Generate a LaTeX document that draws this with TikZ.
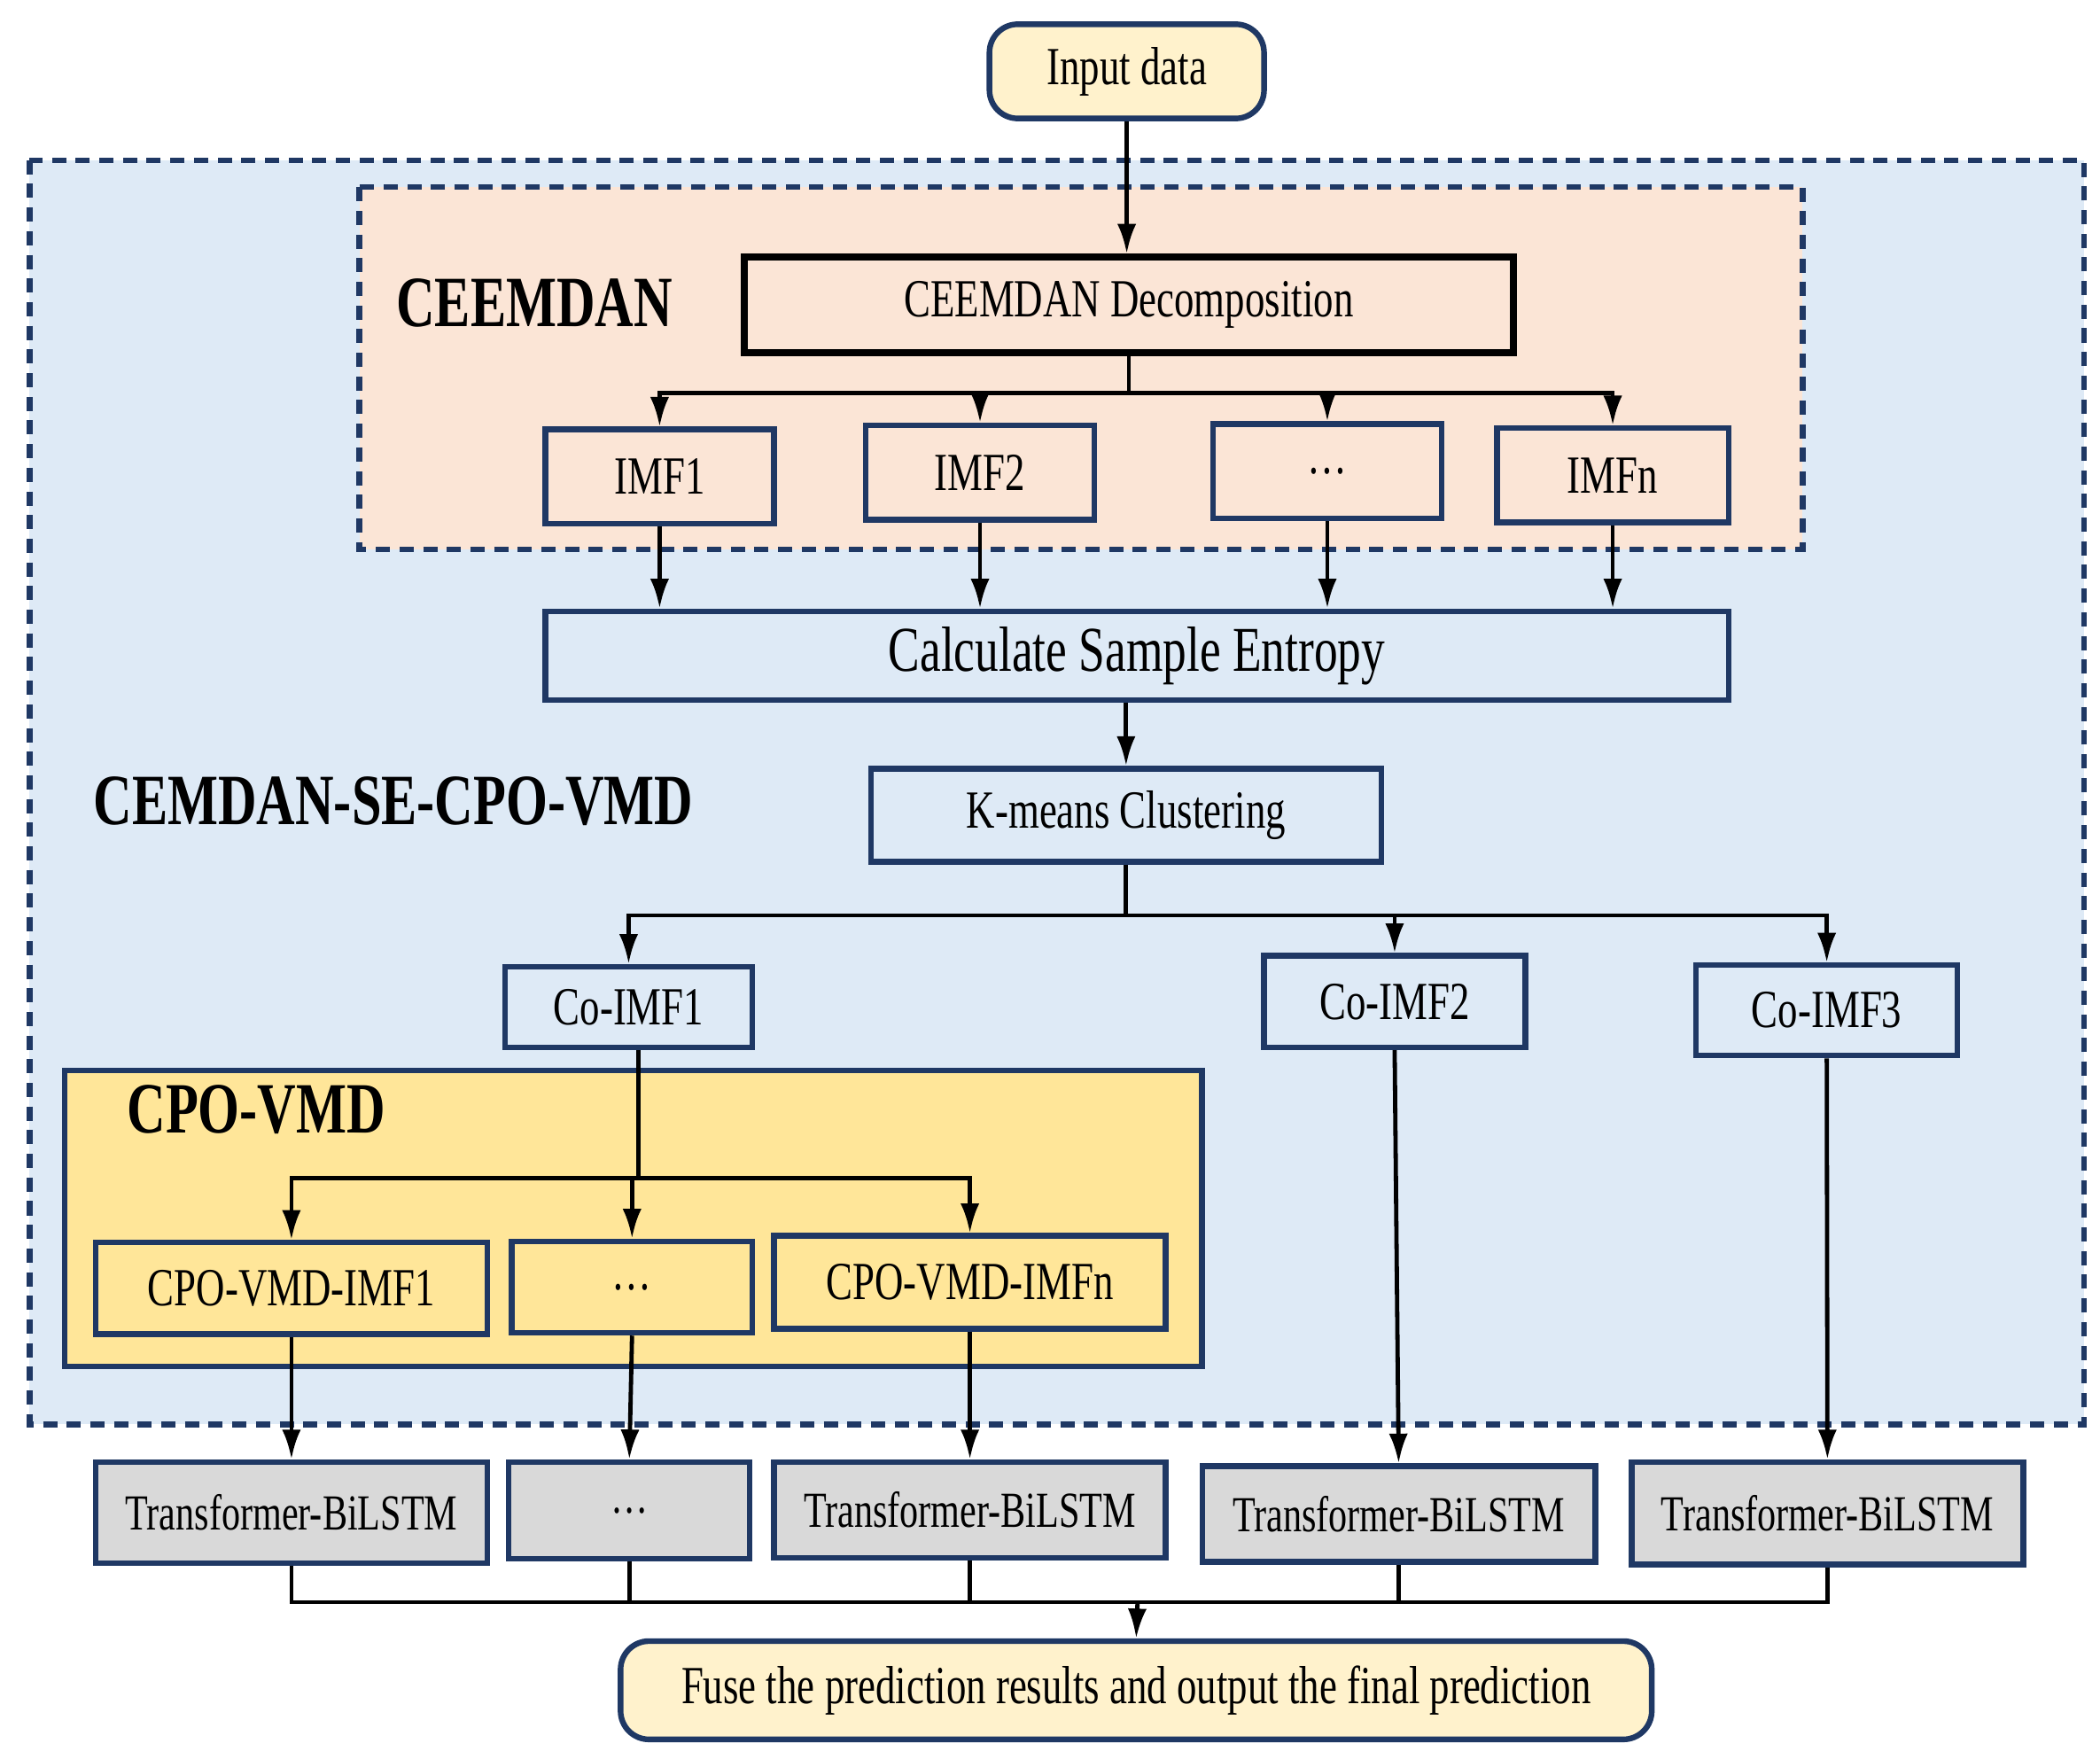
\documentclass[tikz,border=0pt]{standalone}
\usepackage{fontspec}
\setmainfont{Liberation Serif}
\usepackage{graphicx}
\usetikzlibrary{arrows.meta, positioning}

\definecolor{navy}{HTML}{1F3864}
\definecolor{bluebg}{HTML}{DEEAF6}
\definecolor{peach}{HTML}{FBE5D6}
\definecolor{gold}{HTML}{FFE699}
\definecolor{cream}{HTML}{FFF2CC}
\definecolor{greybox}{HTML}{D9D9D9}

\newcommand{\tallt}[1]{\scalebox{1}[1.35]{#1}}

\begin{document}
\begin{tikzpicture}[
	box/.style={draw=navy, line width=1.2pt, minimum height=0.7cm, inner sep=0pt, font=\fontsize{8.4pt}{10pt}\selectfont},
	roundbox/.style={box, fill=cream, rounded corners=6pt},
	grey/.style={box, fill=greybox, font=\fontsize{7.9pt}{10pt}\selectfont},
	label/.style={anchor=west, font=\bfseries\fontsize{11.3pt}{13pt}\selectfont},
	arr/.style={-{Latex[length=2.2mm,width=1.4mm]}, line width=0.9pt},
	ln/.style={line width=0.9pt}
	]
	
	\useasboundingbox (0,0) rectangle (15.6,-13.06);
	
	% Fondos
	\fill[bluebg] (0.22,-1.19) rectangle (15.48,-10.58);
	\draw[navy, line width=1.2pt, dash pattern=on 3pt off 2pt] (0.22,-1.19) rectangle (15.48,-10.58);
	\fill[peach] (2.67,-1.39) rectangle (13.39,-4.08);
	\draw[navy, line width=1.2pt, dash pattern=on 3pt off 2pt] (2.67,-1.39) rectangle (13.39,-4.08);
	\draw[navy, fill=gold, line width=1.2pt] (0.48,-7.95) rectangle (8.93,-10.15);
	
	% Etiquetas de los bloques
	\node[label] (lceem) at (2.82,-2.25) {\tallt{CEEMDAN}};
	\node[label] (lall) at (0.57,-5.95) {\tallt{CEMDAN-SE-CPO-VMD}};
	\node[label] (lcpo) at (0.82,-8.24) {\tallt{CPO-VMD}};
	
	% Nodos
	\node[roundbox, minimum width=2.04cm] (input) at (8.37,-0.53) {\tallt{Input data}};
	\node[box, draw=black, line width=1.5pt, fill=peach, minimum width=5.71cm, minimum height=0.71cm] (dec) at (8.385,-2.265) {\tallt{CEEMDAN Decomposition}};
	
	\node[box, fill=peach, minimum width=1.70cm] (imf1) at (4.90,-3.54) {\tallt{IMF1}};
	\node[box, fill=peach, minimum width=1.70cm] (imf2) at (7.28,-3.51) {\tallt{IMF2}};
	\node[box, fill=peach, minimum width=1.70cm] (imfd) at (9.86,-3.50) {\tallt{\dots}};
	\node[box, fill=peach, minimum width=1.72cm] (imfn) at (11.98,-3.53) {\tallt{IMFn}};
	
	\node[box, fill=bluebg, minimum width=8.79cm, minimum height=0.66cm, font=\fontsize{10pt}{12pt}\selectfont] (se) at (8.445,-4.87) {\tallt{Calculate Sample Entropy}};
	\node[box, fill=bluebg, minimum width=3.79cm, minimum height=0.69cm] (km) at (8.365,-6.055) {\tallt{K-means Clustering}};
	
	\node[box, fill=bluebg, minimum width=1.84cm, minimum height=0.60cm] (co1) at (4.67,-7.48) {\tallt{Co-IMF1}};
	\node[box, fill=bluebg, minimum width=1.94cm, minimum height=0.68cm] (co2) at (10.36,-7.44) {\tallt{Co-IMF2}};
	\node[box, fill=bluebg, minimum width=1.94cm, minimum height=0.67cm] (co3) at (13.57,-7.505) {\tallt{Co-IMF3}};
	
	\node[box, fill=gold, minimum width=2.91cm, minimum height=0.68cm] (v1) at (2.165,-9.57) {\tallt{CPO-VMD-IMF1}};
	\node[box, fill=gold, minimum width=1.79cm, minimum height=0.68cm] (vd) at (4.695,-9.56) {\tallt{\dots}};
	\node[box, fill=gold, minimum width=2.91cm, minimum height=0.69cm] (vn) at (7.205,-9.525) {\tallt{CPO-VMD-IMFn}};
	
	\node[grey, minimum width=2.91cm, minimum height=0.75cm] (t1) at (2.165,-11.235) {\tallt{Transformer-BiLSTM}};
	\node[grey, minimum width=1.79cm, minimum height=0.72cm] (td) at (4.675,-11.22) {\tallt{\dots}};
	\node[grey, minimum width=2.91cm, minimum height=0.71cm] (tn) at (7.205,-11.215) {\tallt{Transformer-BiLSTM}};
	\node[grey, minimum width=2.92cm, minimum height=0.71cm] (t2) at (10.39,-11.245) {\tallt{Transformer-BiLSTM}};
	\node[grey, minimum width=2.91cm, minimum height=0.76cm] (t3) at (13.575,-11.24) {\tallt{Transformer-BiLSTM}};
	
	\node[roundbox, minimum width=7.66cm, minimum height=0.73cm] (fuse) at (8.44,-12.555) {\tallt{Fuse the prediction results and output the final prediction}};
	
	% Puntos de bifurcacion
	\coordinate (b1) at (8.385,-2.92);
	\coordinate (b2) at (8.365,-6.80);
	\coordinate (b3) at (4.74,-8.75);
	\coordinate (m) at (8.45,-11.90);
	
	% Flechas
	\draw[arr] (input.south) -- (input.south |- dec.north);
	\draw[ln] (dec.south) -- (b1);
	\foreach \n in {imf1, imf2, imfd, imfn}
		\draw[arr] (b1) -| (\n.north);
	\foreach \n in {imf1, imf2, imfd, imfn}
		\draw[arr] (\n.south) -- (\n.south |- se.north);
	\draw[arr] (km.north |- se.south) -- (km.north);
	\draw[ln] (km.south) -- (b2);
	\foreach \n in {co1, co2, co3}
		\draw[arr] (b2) -| (\n.north);
	\draw[ln] (co1.south -| b3) -- (b3);
	\foreach \n in {v1, vd, vn}
		\draw[arr] (b3) -| (\n.north);
	\draw[arr] (v1.south) -- (t1.north);
	\draw[arr] (vd.south) -- (td.north);
	\draw[arr] (vn.south) -- (tn.north);
	\draw[arr] (co2.south) -- (t2.north);
	\draw[arr] (co3.south) -- (t3.north);
	\foreach \n in {t1, td, tn, t2, t3}
		\draw[ln] (\n.south) |- (m);
	\draw[arr] (m) -- (fuse.north);
	
\end{tikzpicture}
\end{document}
